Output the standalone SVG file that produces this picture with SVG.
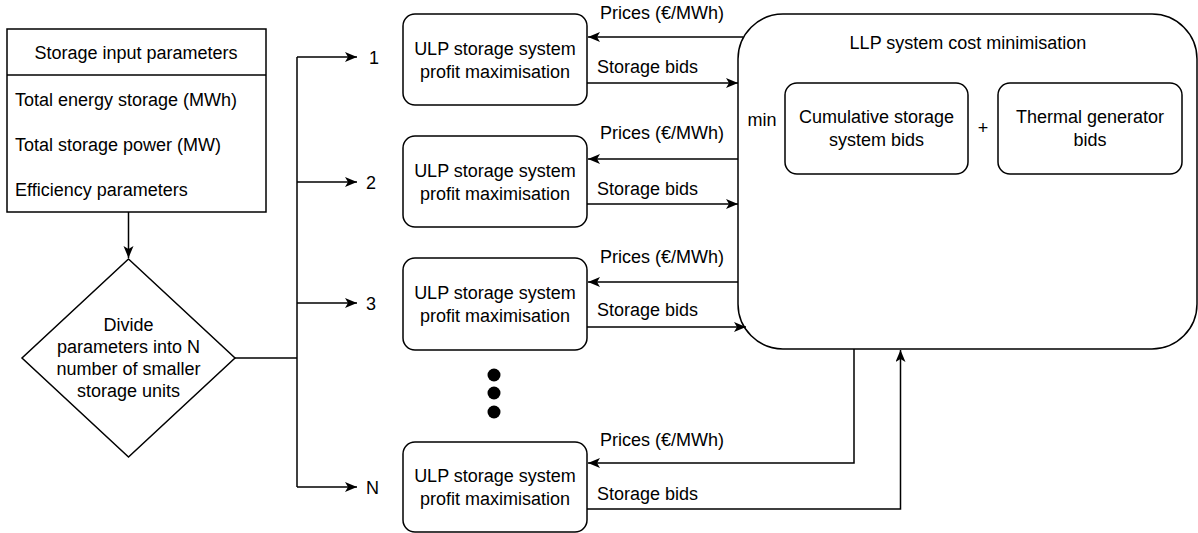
<svg xmlns="http://www.w3.org/2000/svg" width="1198" height="533" viewBox="0 0 1198 533">
<style>
text{font-family:"Liberation Sans",Arial,sans-serif;font-size:18px;fill:#000}
.c{text-anchor:middle}
.box{fill:#fff;stroke:#000;stroke-width:1.5}
.ln{fill:none;stroke:#000;stroke-width:1.5}
</style>
<defs>
<marker id="ar" markerUnits="userSpaceOnUse" markerWidth="14" markerHeight="12" refX="12" refY="5" orient="auto">
<path d="M0,0 L12,5 L0,10 L3,5 z" fill="#000"/>
</marker>
</defs>
<rect width="1198" height="533" fill="#fff"/>

<g id="input-params">
<rect class="box" x="7" y="29" width="259" height="183"/>
<line class="ln" x1="7" y1="75" x2="266" y2="75"/>
<text class="c" x="136" y="59">Storage input parameters</text>
<text x="15" y="106">Total energy storage (MWh)</text>
<text x="15" y="151">Total storage power (MW)</text>
<text x="15" y="196">Efficiency parameters</text>
</g>

<g id="divide">
<polygon class="box" points="128.5,259 235,358 128.5,457 22,358"/>
<text class="c" x="128.5" y="331">Divide</text>
<text class="c" x="128.5" y="353">parameters into N</text>
<text class="c" x="128.5" y="375">number of smaller</text>
<text class="c" x="128.5" y="397">storage units</text>
</g>

<g id="ulp1">
<rect class="box" x="403" y="14" width="184" height="91" rx="12"/>
<text class="c" x="495" y="55">ULP storage system</text>
<text class="c" x="495" y="78">profit maximisation</text>
</g>
<g id="ulp2">
<rect class="box" x="403" y="136" width="184" height="91" rx="12"/>
<text class="c" x="495" y="177">ULP storage system</text>
<text class="c" x="495" y="200">profit maximisation</text>
</g>
<g id="ulp3">
<rect class="box" x="403" y="258" width="184" height="92" rx="12"/>
<text class="c" x="495" y="299">ULP storage system</text>
<text class="c" x="495" y="322">profit maximisation</text>
</g>
<g id="ulpN">
<rect class="box" x="403" y="442" width="184" height="90" rx="12"/>
<text class="c" x="495" y="482">ULP storage system</text>
<text class="c" x="495" y="505">profit maximisation</text>
</g>

<g id="dots">
<circle cx="494" cy="375" r="6.5" fill="#000"/>
<circle cx="494" cy="393" r="6.5" fill="#000"/>
<circle cx="494" cy="412" r="6.5" fill="#000"/>
</g>

<g id="llp">
<rect class="box" x="738" y="14" width="459" height="335" rx="45"/>
<text class="c" x="968" y="49">LLP system cost minimisation</text>
<text class="c" x="762" y="126">min</text>
<text class="c" x="983" y="134">+</text>
</g>
<g id="cumulative">
<rect class="box" x="785" y="83" width="183" height="91" rx="12"/>
<text class="c" x="876.5" y="123">Cumulative storage</text>
<text class="c" x="876.5" y="146">system bids</text>
</g>
<g id="thermal">
<rect class="box" x="998" y="83" width="184" height="91" rx="12"/>
<text class="c" x="1090" y="123">Thermal generator</text>
<text class="c" x="1090" y="146">bids</text>
</g>

<g id="connectors">
<line class="ln" x1="128.5" y1="212" x2="128.5" y2="258" marker-end="url(#ar)"/>
<polyline class="ln" points="235,358 297,358"/>
<line class="ln" x1="297" y1="57" x2="297" y2="487"/>
<line class="ln" x1="297" y1="57" x2="357" y2="57" marker-end="url(#ar)"/>
<line class="ln" x1="297" y1="182" x2="357" y2="182" marker-end="url(#ar)"/>
<line class="ln" x1="297" y1="303" x2="357" y2="303" marker-end="url(#ar)"/>
<line class="ln" x1="297" y1="487" x2="357" y2="487" marker-end="url(#ar)"/>

<line class="ln" x1="743" y1="37" x2="588" y2="37" marker-end="url(#ar)"/>
<line class="ln" x1="587" y1="83" x2="738" y2="83" marker-end="url(#ar)"/>
<line class="ln" x1="738" y1="159" x2="588" y2="159" marker-end="url(#ar)"/>
<line class="ln" x1="587" y1="204" x2="738" y2="204" marker-end="url(#ar)"/>
<line class="ln" x1="738" y1="282" x2="588" y2="282" marker-end="url(#ar)"/>
<line class="ln" x1="587" y1="327" x2="746" y2="327" marker-end="url(#ar)"/>
<polyline class="ln" points="854,349 854,463 588,463" marker-end="url(#ar)"/>
<polyline class="ln" points="587,509 900.5,509 900.5,350" marker-end="url(#ar)"/>

<text x="369" y="64">1</text>
<text x="366" y="189">2</text>
<text x="366" y="310">3</text>
<text x="366" y="494">N</text>

<text x="600" y="19">Prices (€/MWh)</text>
<text x="597" y="73">Storage bids</text>
<text x="600" y="139">Prices (€/MWh)</text>
<text x="597" y="195">Storage bids</text>
<text x="600" y="263">Prices (€/MWh)</text>
<text x="597" y="316">Storage bids</text>
<text x="600" y="446">Prices (€/MWh)</text>
<text x="597" y="500">Storage bids</text>
</g>
</svg>
